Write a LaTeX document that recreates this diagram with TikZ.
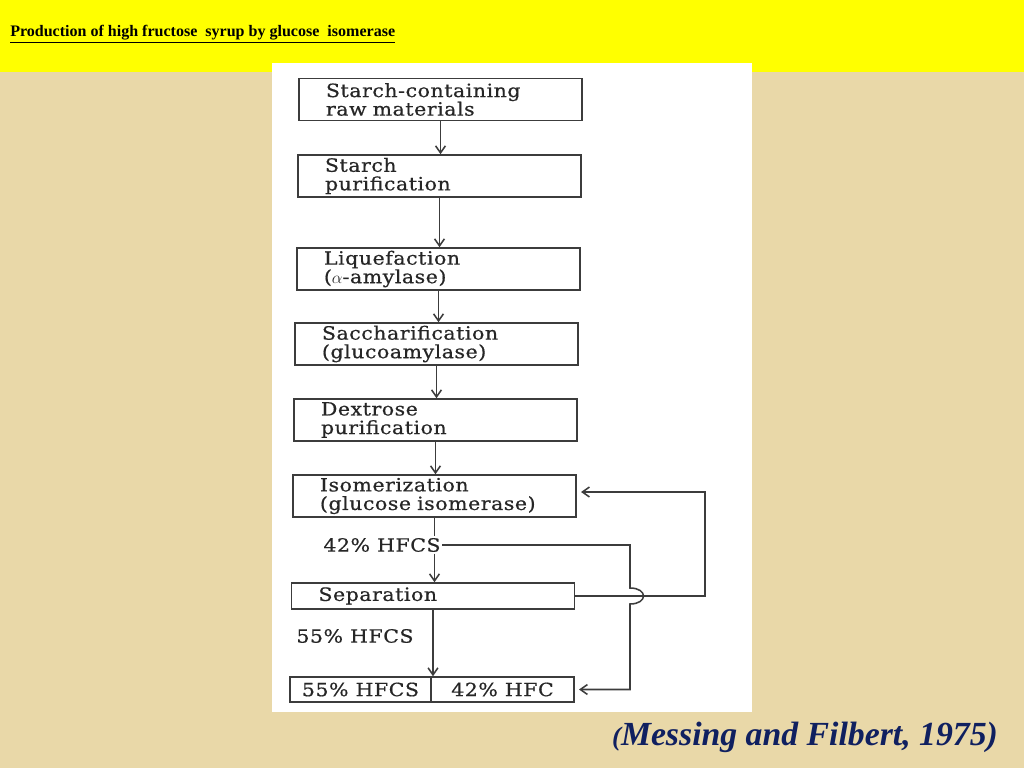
\documentclass[tikz,border=0pt]{standalone}
\usepackage{fontspec}
\setmainfont{Liberation Serif}
\newfontfamily\scanfont[FakeStretch=1.12, LetterSpace=3, FakeBold=0.6]{DejaVu Serif}
\usetikzlibrary{arrows.meta}
\definecolor{parchment}{RGB}{233,216,168}
\definecolor{banner}{RGB}{255,255,0}
\definecolor{citeblue}{RGB}{16,32,96}
\definecolor{ink}{RGB}{60,60,60}

\begin{document}
\begin{tikzpicture}[x=0.025cm,y=-0.025cm,>={Straight Barb[length=5pt,width=7pt]},
		stagebox/.style={draw=ink, line width=1.1pt, minimum height=1.05cm, text width=5.725cm,
			inner xsep=0.675cm, inner ysep=0pt, align=left, text=black!85,
			font=\scanfont\fontsize{13}{13.2}\selectfont},
		cell/.style={draw=ink, line width=1.1pt, minimum height=0.625cm, inner sep=0pt, text=black!85,
			font=\scanfont\fontsize{13}{14}\selectfont},
		tag/.style={inner sep=1pt, text=black!85, font=\scanfont\fontsize{13}{14}\selectfont},
		flow/.style={->, draw=ink, line width=1.1pt},
		link/.style={draw=ink, line width=1.1pt}]
		\useasboundingbox (0,0) rectangle (1024,768);
		%Sfondo
		\fill [parchment] (0,0) rectangle (1024,768);
		\fill [banner] (0,0) rectangle (1024,72);
		\fill [white] (272,63) rectangle (752,712);
		\node [anchor=west, inner sep=0pt, font=\bfseries\fontsize{11.4}{13}\selectfont] (title) at (10,34)
			{\underline{Production of high fructose\ \ syrup by glucose\ \ isomerase}};
		%Stadi
		\node [stagebox] (raw) at (440.5,99.5) {Starch-containing\\raw materials};
		\node [stagebox] (purif) at (439.5,176) {Starch\\purification};
		\node [stagebox] (liq) at (438.5,269) {Liquefaction\\($\alpha$-amylase)};
		\node [stagebox] (sacch) at (436.5,344) {Saccharification\\(glucoamylase)};
		\node [stagebox] (dex) at (435.5,420) {Dextrose\\purification};
		\node [stagebox] (iso) at (434.5,496) {Isomerization\\(glucose isomerase)};
		\node [stagebox, minimum height=0.65cm] (sep) at (433,596) {Separation};
		\node [cell, minimum width=3.525cm] (out55) at (360.5,689.5) {55\% HFCS};
		\node [cell, minimum width=3.575cm] (out42) at (502.5,689.5) {42\% HFC};
		%Etichette
		\node [tag] (hf42) at (382,545) {42\% HFCS};
		\node [tag] (hf55) at (355,636) {55\% HFCS};
		%Frecce
		\foreach \a/\b in {raw/purif, purif/liq, liq/sacch, sacch/dex, dex/iso}
			\draw [flow] (\a.south) -- (\a.south |- \b.north);
		\draw [link] (iso.south) -- (iso.south |- hf42.north);
		\draw [flow] (iso.south |- hf42.south) -- (iso.south |- sep.north);
		\draw [flow] (sep.south) -- (sep.south |- out55.north);
		%Ricircolo
		\coordinate (hopin) at (630,588);
		\coordinate (hopout) at (630,604);
		\coordinate (ret) at (705,492);
		\draw [flow, shorten >=3pt] (hf42.east) -| (hopin) .. controls (648,588) and (648,604) .. (hopout) |- (out42.east);
		\draw [flow, shorten >=3pt] (sep.east) -| (ret) -- (ret -| iso.east);
		%Fonte
		\node [text=citeblue, font=\bfseries\itshape\fontsize{24}{28}\selectfont] (cite) at (805,737)
			{{\fontsize{19}{22}\selectfont(}Messing and Filbert, 1975)};
	\end{tikzpicture}
\end{document}
